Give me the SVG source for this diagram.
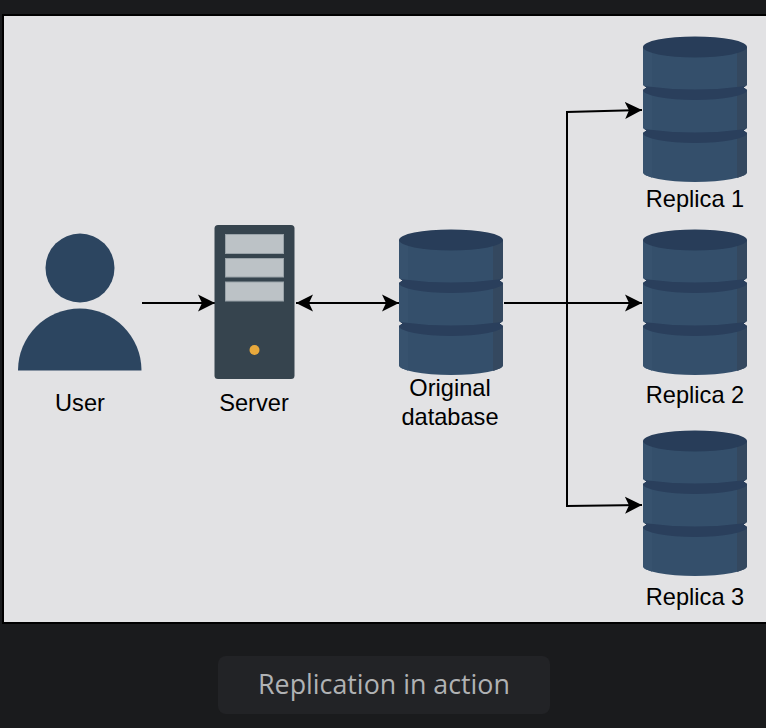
<svg xmlns="http://www.w3.org/2000/svg" xmlns:xlink="http://www.w3.org/1999/xlink" width="766" height="728" viewBox="0 0 766 728">
<style>
.lbl{font-family:"Liberation Sans",Arial,sans-serif;font-size:23.6px;fill:#000;text-anchor:middle}
.cap{font-family:"Open Sans","Noto Sans",sans-serif;font-size:26.8px;fill:#b0b2b4;text-anchor:middle}
.con{fill:none;stroke:#000;stroke-width:2}
.slot{fill:#bcc2c6;stroke:#9aa3a9;stroke-width:1}
.band{fill:#2a3f5c}
</style>
<defs>
<marker id="ah" markerUnits="userSpaceOnUse" markerWidth="20" markerHeight="20" refX="17" refY="9" orient="auto-start-reverse" viewBox="0 0 20 18">
<path d="M0,0.500 L17,9 L0,17.500 L4,9 Z" fill="#000"/>
</marker>
<clipPath id="sil">
<path d="M0,11 V49 L3.500,51.500 L0,54 V92 L3.500,94.500 L0,97 V136 A52,10 0 0 0 104,136 V97 L100.500,94.500 L104,92 V54 L100.500,51.500 L104,49 V11 Z"/>
</clipPath>
<g id="db">
<path d="M0,11 V49 L3.500,51.500 L0,54 V92 L3.500,94.500 L0,97 V136 A52,10 0 0 0 104,136 V97 L100.500,94.500 L104,92 V54 L100.500,51.500 L104,49 V11 Z" fill="#344f6b"/>
<g clip-path="url(#sil)">
<rect x="0" y="11" width="9" height="135" fill="#37526e"/>
<rect x="94" y="11" width="10" height="135" fill="#34485f"/>
<path class="band" d="M0,50 Q52,57 104,50 V54 A52,10 0 0 1 0,54 Z"/>
<path class="band" d="M0,93 Q52,100 104,93 V97 A52,10 0 0 1 0,97 Z"/>
</g>
<ellipse cx="52" cy="11" rx="52" ry="10.500" fill="#283d59"/>
</g>
</defs>
<rect width="766" height="728" fill="#1a1b1d"/>
<rect x="3" y="15" width="764" height="608" fill="#e2e2e4" stroke="#000" stroke-width="2"/>
<g id="connectors">
<path class="con" d="M142,303 H215" marker-end="url(#ah)"/>
<path class="con" d="M296,303 H399" marker-start="url(#ah)" marker-end="url(#ah)"/>
<path class="con" d="M504,303 H642" marker-end="url(#ah)"/>
<path class="con" d="M642,110 L567,112 V506 L642,505" marker-start="url(#ah)" marker-end="url(#ah)"/>
</g>
<g id="user">
<circle cx="80" cy="268" r="34.500" fill="#2c4560"/>
<path d="M18,370.500 A61.750,62 0 0 1 141.500,370.500 Z" fill="#2c4560"/>
<text class="lbl" x="80" y="410.500">User</text>
</g>
<g id="server">
<rect x="214.500" y="225" width="80" height="154" rx="3.500" fill="#36444e"/>
<rect class="slot" x="225.500" y="234.500" width="58" height="19"/>
<rect class="slot" x="225.500" y="258.500" width="58" height="18.500"/>
<rect class="slot" x="225.500" y="282" width="58" height="19"/>
<circle cx="254.500" cy="350" r="5" fill="#e8a93c"/>
<text class="lbl" x="254" y="411">Server</text>
</g>
<g id="original-db">
<use xlink:href="#db" href="#db" x="399" y="229"/>
<text class="lbl" x="450" y="396">Original</text>
<text class="lbl" x="450" y="425">database</text>
</g>
<g id="replica-1">
<use xlink:href="#db" href="#db" x="643" y="36"/>
<text class="lbl" x="695" y="207">Replica 1</text>
</g>
<g id="replica-2">
<use xlink:href="#db" href="#db" x="643" y="229"/>
<text class="lbl" x="695" y="403">Replica 2</text>
</g>
<g id="replica-3">
<use xlink:href="#db" href="#db" x="643" y="430"/>
<text class="lbl" x="695" y="605">Replica 3</text>
</g>
<g id="caption">
<rect x="218" y="656" width="332" height="58" rx="8" fill="#222326"/>
<text class="cap" x="384" y="694">Replication in action</text>
</g>
</svg>
